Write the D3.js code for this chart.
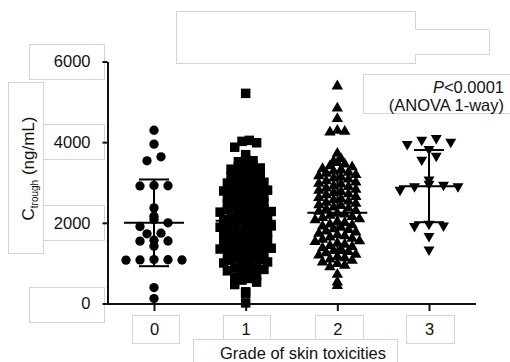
<!DOCTYPE html>
<html><head><meta charset="utf-8">
<script src="https://cdn.jsdelivr.net/npm/d3@7"></script>
<style>body{margin:0;background:#fff}svg{display:block}</style>
</head><body>
<svg id="c" width="510" height="362"></svg>
<script>
// ---- data ----
const categories = ["0", "1", "2", "3"];
const yTicks = [0, 2000, 4000, 6000];
const grade0 = [4296, 3951, 3637, 3538, 2920, 2915, 2925, 2370, 2163, 2081, 2000, 1909,
  1728, 1743, 1546, 1550, 1570, 1422, 1080, 1075, 1085, 1078, 1090, 395, 123];
const grade1 = [5210,
  4045, 4020, 3985, 3875, 3690,
  3565, 3540, 3515, 3470, 3430, 3395, 3360, 3330, 3290,
  3255, 3215, 3190, 3150, 3135, 3090, 3070, 3030,
  3005, 2985, 2950, 2925, 2890, 2880, 2835, 2810,
  2790, 2760, 2745, 2705, 2680, 2650, 2615,
  2600, 2570, 2560, 2515, 2490, 2470, 2425, 2410,
  2395, 2370, 2340, 2330, 2280, 2265, 2240, 2215,
  2195, 2180, 2140, 2125, 2085, 2060, 2045, 2010,
  1995, 1975, 1940, 1925, 1890, 1870, 1840, 1815,
  1800, 1770, 1755, 1715, 1690, 1670, 1640, 1610,
  1595, 1580, 1545, 1520, 1495, 1470, 1440, 1415,
  1395, 1370, 1350, 1315, 1290, 1270, 1235, 1210,
  1190, 1165, 1150, 1110, 1090, 1070, 1030,
  1005, 975, 935, 915, 880, 845,
  810, 770, 745, 690, 655,
  620, 580, 530, 470,
  290, 255, 15];
const grade2 = [5390, 4840, 4580, 4290, 4265, 4245, 3720,
  3590, 3525, 3490, 3455, 3410,
  3385, 3340, 3320, 3280, 3250, 3225, 3190,
  3165, 3130, 3105, 3080, 3035, 3010, 2975,
  2955, 2915, 2895, 2860, 2825, 2805, 2770,
  2745, 2715, 2690, 2650, 2625, 2590, 2565,
  2535, 2505, 2480, 2445, 2425, 2385, 2360,
  2335, 2300, 2280, 2235, 2215, 2180, 2150,
  2125, 2095, 2070, 2030, 2005, 1965, 1945,
  1915, 1885, 1850, 1830, 1790, 1765, 1735,
  1705, 1675, 1645, 1610, 1585, 1550, 1530,
  1495, 1465, 1430, 1405, 1375, 1345, 1310,
  1285, 1255, 1215, 1195, 1160, 1130, 1095,
  1065, 1025, 985, 945, 905,
  720, 530, 440];
const grade3 = [4099, 4057, 4007, 3951, 3827, 3662, 3563, 3069, 2963, 2939, 2904, 2900,
  2815, 1975, 1930, 1917, 1669, 1333];
const meanValues = [2000, 2050, 2250, 2910];
const sdValues = [1075, 900, 1000, 895];
const pLines = ["<0.0001", "(ANOVA 1-way)"];
const xTitle = "Grade of skin toxicities";

// ---- drawing ----
const groups = [grade0, grade1, grade2, grade3];
const svg = d3.select("#c");
const FONT = "'Liberation Sans', Arial, sans-serif";
const ink = "#111";

const y = d3.scaleLinear().domain([0, 6000]).range([303.5, 61.5]);
const x = d3.scalePoint().domain(categories).range([154, 429]);

// light gray layout boxes (artifacts of the source figure)
const boxG = svg.append("g").attr("fill", "none").attr("stroke", "#d4d4d4").attr("stroke-width", 1);
[[29,44,75,35],[8,82,35,171],[43,124,61,35],[43,205,61,35],[29,287,75,35],
 [132,315,47,28],[223,315,47,24],[315,315,48,24],[406,315,48,28],[193,339,204,30],
 [363,74,150,39]].forEach(b => boxG.append("rect")
   .attr("x", b[0] + .5).attr("y", b[1] + .5).attr("width", b[2]).attr("height", b[3]));
boxG.append("path").attr("d", "M176.5,11.5H415.5V29.5H489.5V54.5H415.5V63.5H176.5Z");

// axes
const yAxis = svg.append("g").attr("transform", "translate(107.5,0)")
  .call(d3.axisLeft(y).tickValues(yTicks).tickSize(5).tickSizeOuter(0).tickFormat(d3.format("d")));
yAxis.select(".domain").attr("stroke", ink).attr("stroke-width", 2);
yAxis.selectAll(".tick line").attr("stroke", ink).attr("stroke-width", 2);
yAxis.selectAll(".tick text").attr("x", -17).attr("fill", ink)
  .style("font-family", FONT).style("font-size", "16.5px");

svg.append("line").attr("x1", 103).attr("x2", 476).attr("y1", 304).attr("y2", 304)
  .attr("stroke", ink).attr("stroke-width", 2);
const xAxis = svg.append("g").attr("transform", "translate(0,304)")
  .call(d3.axisBottom(x).tickSize(7).tickSizeOuter(0));
xAxis.select(".domain").remove();
xAxis.selectAll(".tick line").attr("stroke", ink).attr("stroke-width", 2);
xAxis.selectAll(".tick text").attr("y", 0).attr("dy", "31px").attr("fill", ink)
  .style("font-family", FONT).style("font-size", "16.5px");

// Prism-like scatter layout: values binned by value, spread sideways
function layout(values, binSize, spacing) {
  const out = [];
  const bins = d3.group(values, v => Math.round(v / binSize));
  for (const arr of bins.values()) {
    const sorted = arr.slice().sort((a, b) => b - a);
    const n = sorted.length;
    const slots = d3.range(n).map(i => i - (n - 1) / 2)
      .sort((a, b) => Math.abs(a) - Math.abs(b) || b - a);
    sorted.forEach((v, i) => out.push({ v, dx: slots[i] * spacing }));
  }
  return out;
}

const sym = [
  { type: d3.symbolCircle, size: 68, spacing: 14, bin: 223, rot: 0 },
  { type: d3.symbolSquare, size: 90, spacing: 7.3, bin: 180, rot: 0 },
  { type: d3.symbolTriangle, size: 56, spacing: 7.4, bin: 180, rot: 0 },
  { type: d3.symbolTriangle, size: 52, spacing: 14.5, bin: 223, rot: 180 }
];

groups.forEach((vals, gi) => {
  const s = sym[gi];
  const pts = layout(vals, s.bin, s.spacing);
  svg.append("g").selectAll("path").data(pts).join("path")
    .attr("d", d3.symbol().type(s.type).size(s.size))
    .attr("transform", d => `translate(${x(categories[gi]) + d.dx},${y(d.v)}) rotate(${s.rot})`)
    .attr("fill", "#000");
});

// mean ± SD bars
const bars = svg.append("g").attr("stroke", "#000").attr("stroke-width", 2);
categories.forEach((c, i) => {
  const cx = x(c), m = meanValues[i], s = sdValues[i];
  bars.append("line").attr("x1", cx - 30).attr("x2", cx + 30).attr("y1", y(m)).attr("y2", y(m));
  bars.append("line").attr("x1", cx - 15).attr("x2", cx + 15).attr("y1", y(m + s)).attr("y2", y(m + s));
  bars.append("line").attr("x1", cx - 15).attr("x2", cx + 15).attr("y1", y(m - s)).attr("y2", y(m - s));
  bars.append("line").attr("x1", cx).attr("x2", cx).attr("y1", y(m + s)).attr("y2", y(m - s));
});

// y axis title
const yt = svg.append("text").attr("transform", "translate(34,168.5) rotate(-90)")
  .attr("text-anchor", "middle").attr("fill", ink)
  .style("font-family", FONT).style("font-size", "17px");
yt.append("tspan").text("C");
const sub = yt.append("tspan").attr("dy", 4).style("font-size", "10px").text("trough");
yt.append("tspan").attr("dy", -4).text(" (ng/mL)");
// keep the title at the length measured on the reference (~106px)
const ytw = yt.node().getComputedTextLength ? yt.node().getBBox().width : 0;
if (ytw > 0 && Math.abs(ytw - 106) > 3) {
  const k = 106 / ytw;
  yt.style("font-size", (17 * k) + "px");
  sub.style("font-size", (10 * k) + "px");
}

// x axis title
svg.append("text").attr("x", 303).attr("y", 359).attr("text-anchor", "middle").attr("fill", ink)
  .style("font-family", FONT).style("font-size", "16.5px").text(xTitle);

// P value annotation
const pt = svg.append("text").attr("x", 504).attr("y", 93).attr("text-anchor", "end").attr("fill", ink)
  .style("font-family", FONT).style("font-size", "16.5px");
pt.append("tspan").style("font-style", "italic").text("P");
pt.append("tspan").text(pLines[0]);
svg.append("text").attr("x", 504).attr("y", 111).attr("text-anchor", "end").attr("fill", ink)
  .style("font-family", FONT).style("font-size", "16.5px").text(pLines[1]);
</script>
</body></html>
